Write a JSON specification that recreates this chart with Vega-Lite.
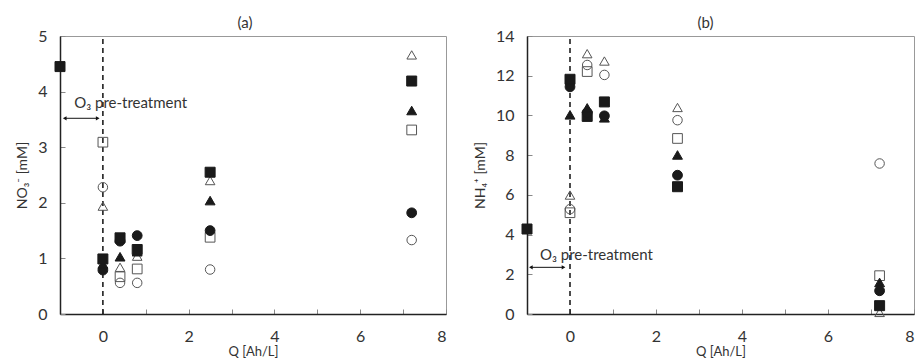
{
  "$schema": "https://vega.github.io/schema/vega-lite/v6.json",
  "padding": {"left": 15, "top": 15, "right": 0, "bottom": 0},
  "background": "white",
  "config": {
    "font": "Lato",
    "view": {"stroke": "#999", "strokeWidth": 1},
    "axis": {
      "grid": false, "domainColor": "#222", "domainWidth": 1.5,
      "labelFont": "Lato", "labelFontSize": 16, "labelColor": "#333", "labelOverlap": false,
      "titleFont": "Lato", "titleFontSize": 14, "titleFontWeight": "normal", "titleColor": "#333",
      "tickColor": "#888", "tickSize": -5, "tickWidth": 1
    },
    "axisY": {"labelOverlap": false},
    "title": {"font": "Lato", "fontSize": 15, "fontWeight": "normal", "color": "#333", "offset": -3}
  },
  "datasets": {
    "dash": [
      {"panel": "a", "q": 0, "v": 0, "v2": 5},
      {"panel": "b", "q": 0, "v": 0, "v2": 14}
    ],
    "arrow": [
      {"panel": "a", "q": -0.89, "q2": -0.12, "v": 3.52},
      {"panel": "b", "q": -0.91, "q2": -0.15, "v": 2.35}
    ],
    "heads": [
      {"panel": "a", "q": -0.89, "v": 3.52, "dir": "L"},
      {"panel": "a", "q": -0.12, "v": 3.52, "dir": "R"},
      {"panel": "b", "q": -0.91, "v": 2.35, "dir": "L"},
      {"panel": "b", "q": -0.15, "v": 2.35, "dir": "R"}
    ],
    "txt": [
      {"panel": "a", "q": -0.67, "v": 3.8, "label": "O₃ pre-treatment"},
      {"panel": "b", "q": -0.7, "v": 2.97, "label": "O₃ pre-treatment"}
    ],
    "pts": [
      {"panel": "a", "series": "D", "q": 0, "v": 3.09},
      {"panel": "a", "series": "F", "q": 0, "v": 2.28},
      {"panel": "a", "series": "E", "q": 0, "v": 1.94},
      {"panel": "a", "series": "C", "q": 0, "v": 0.79},
      {"panel": "a", "series": "B", "q": 0, "v": 0.9},
      {"panel": "a", "series": "A", "q": 0, "v": 0.99},
      {"panel": "a", "series": "A", "q": -1, "v": 4.45},
      {"panel": "a", "series": "F", "q": 0.4, "v": 0.56},
      {"panel": "a", "series": "D", "q": 0.4, "v": 0.67},
      {"panel": "a", "series": "E", "q": 0.4, "v": 0.84},
      {"panel": "a", "series": "B", "q": 0.4, "v": 1.03},
      {"panel": "a", "series": "C", "q": 0.4, "v": 1.31},
      {"panel": "a", "series": "A", "q": 0.4, "v": 1.37},
      {"panel": "a", "series": "F", "q": 0.8, "v": 0.56},
      {"panel": "a", "series": "D", "q": 0.8, "v": 0.81},
      {"panel": "a", "series": "E", "q": 0.8, "v": 1.04},
      {"panel": "a", "series": "B", "q": 0.8, "v": 1.12},
      {"panel": "a", "series": "C", "q": 0.8, "v": 1.41},
      {"panel": "a", "series": "A", "q": 0.8, "v": 1.16},
      {"panel": "a", "series": "F", "q": 2.5, "v": 0.8},
      {"panel": "a", "series": "D", "q": 2.5, "v": 1.38},
      {"panel": "a", "series": "E", "q": 2.5, "v": 2.4},
      {"panel": "a", "series": "C", "q": 2.5, "v": 1.5},
      {"panel": "a", "series": "B", "q": 2.5, "v": 2.04},
      {"panel": "a", "series": "A", "q": 2.5, "v": 2.55},
      {"panel": "a", "series": "F", "q": 7.2, "v": 1.33},
      {"panel": "a", "series": "D", "q": 7.2, "v": 3.31},
      {"panel": "a", "series": "E", "q": 7.2, "v": 4.66},
      {"panel": "a", "series": "C", "q": 7.2, "v": 1.82},
      {"panel": "a", "series": "B", "q": 7.2, "v": 3.66},
      {"panel": "a", "series": "A", "q": 7.2, "v": 4.19},
      {"panel": "b", "series": "A", "q": -1, "v": 4.28},
      {"panel": "b", "series": "E", "q": 0, "v": 5.99},
      {"panel": "b", "series": "F", "q": 0, "v": 5.28},
      {"panel": "b", "series": "D", "q": 0, "v": 5.1},
      {"panel": "b", "series": "B", "q": 0, "v": 10.03},
      {"panel": "b", "series": "C", "q": 0, "v": 11.44},
      {"panel": "b", "series": "A", "q": 0, "v": 11.82},
      {"panel": "b", "series": "E", "q": 0.4, "v": 13.11},
      {"panel": "b", "series": "F", "q": 0.4, "v": 12.54},
      {"panel": "b", "series": "D", "q": 0.4, "v": 12.21},
      {"panel": "b", "series": "A", "q": 0.4, "v": 9.95},
      {"panel": "b", "series": "C", "q": 0.4, "v": 10.15},
      {"panel": "b", "series": "B", "q": 0.4, "v": 10.38},
      {"panel": "b", "series": "E", "q": 0.8, "v": 12.74},
      {"panel": "b", "series": "F", "q": 0.8, "v": 12.04},
      {"panel": "b", "series": "B", "q": 0.8, "v": 9.88},
      {"panel": "b", "series": "C", "q": 0.8, "v": 9.98},
      {"panel": "b", "series": "A", "q": 0.8, "v": 10.68},
      {"panel": "b", "series": "E", "q": 2.5, "v": 10.4},
      {"panel": "b", "series": "F", "q": 2.5, "v": 9.76},
      {"panel": "b", "series": "D", "q": 2.5, "v": 8.84},
      {"panel": "b", "series": "B", "q": 2.5, "v": 8.01},
      {"panel": "b", "series": "C", "q": 2.5, "v": 6.99},
      {"panel": "b", "series": "A", "q": 2.5, "v": 6.41},
      {"panel": "b", "series": "F", "q": 7.2, "v": 7.58},
      {"panel": "b", "series": "D", "q": 7.2, "v": 1.93},
      {"panel": "b", "series": "E", "q": 7.2, "v": 0.08},
      {"panel": "b", "series": "B", "q": 7.2, "v": 1.59},
      {"panel": "b", "series": "C", "q": 7.2, "v": 1.17},
      {"panel": "b", "series": "A", "q": 7.2, "v": 0.42}
    ]
  },
  "spacing": 25,
  "hconcat": [
    {
      "width": 386, "height": 278,
      "title": {"text": "(a)", "dx": -8},
      "encoding": {
        "x": {"field": "q", "type": "quantitative", "scale": {"domain": [-1, 8], "nice": false},
              "axis": {"title": "Q [Ah/L]", "values": [0, 1, 2, 3, 4, 5, 6, 7, 8], "labelExpr": "datum.value % 2 == 0 ? datum.label : ''", "labelPadding": 19, "titleY": 37, "titleBaseline": "middle", "titleFontSize": 13, "labelOverlap": false}},
        "y": {"field": "v", "type": "quantitative", "scale": {"domain": [0, 5], "nice": false},
              "axis": {"title": "NO₃⁻ [mM]", "values": [0, 1, 2, 3, 4, 5], "labelPadding": 18, "titlePadding": 8, "labelOverlap": false}}
      },
      "layer": [
        {
          "data": {"name": "dash"},
          "transform": [{"filter": "datum.panel == 'a'"}],
          "mark": {"type": "rule", "color": "#111", "strokeWidth": 1.5, "strokeDash": [5, 4]},
          "encoding": {"y2": {"field": "v2"}}
        },
        {
          "data": {"name": "arrow"},
          "transform": [{"filter": "datum.panel == 'a'"}],
          "mark": {"type": "rule", "color": "#111", "strokeWidth": 1},
          "encoding": {"x2": {"field": "q2"}}
        },
        {
          "data": {"name": "heads"},
          "transform": [{"filter": "datum.panel == 'a' && datum.dir == 'L'"}],
          "mark": {"type": "point", "filled": true, "color": "#111", "size": 18, "shape": "triangle-left", "opacity": 1}
        },
        {
          "data": {"name": "heads"},
          "transform": [{"filter": "datum.panel == 'a' && datum.dir == 'R'"}],
          "mark": {"type": "point", "filled": true, "color": "#111", "size": 18, "shape": "triangle-right", "opacity": 1}
        },
        {
          "data": {"name": "txt"},
          "transform": [{"filter": "datum.panel == 'a'"}],
          "mark": {"type": "text", "align": "left", "baseline": "middle", "fontSize": 15, "color": "#333", "font": "Lato"},
          "encoding": {"text": {"field": "label"}}
        },
        {
          "data": {"name": "pts"},
          "transform": [{"filter": "datum.panel == 'a'"}],
          "mark": {"type": "point", "strokeWidth": 1, "opacity": 1},
          "encoding": {
            "shape": {"field": "series", "type": "nominal", "scale": {"domain": ["A", "B", "C", "D", "E", "F"], "range": ["square", "triangle-up", "circle", "square", "triangle-up", "circle"]}, "legend": null},
            "fill": {"field": "series", "type": "nominal", "scale": {"domain": ["A", "B", "C", "D", "E", "F"], "range": ["#1a1a1a", "#1a1a1a", "#1a1a1a", "transparent", "transparent", "transparent"]}, "legend": null},
            "stroke": {"field": "series", "type": "nominal", "scale": {"domain": ["A", "B", "C", "D", "E", "F"], "range": ["#1a1a1a", "#1a1a1a", "#1a1a1a", "#555", "#555", "#555"]}, "legend": null},
            "size": {"field": "series", "type": "nominal", "scale": {"domain": ["A", "B", "C", "D", "E", "F"], "range": [100, 90, 95, 90, 90, 95]}, "legend": null}
          }
        }
      ]
    },
    {
      "width": 387, "height": 278,
      "title": {"text": "(b)", "dx": -15},
      "encoding": {
        "x": {"field": "q", "type": "quantitative", "scale": {"domain": [-1, 8], "nice": false},
              "axis": {"title": "Q [Ah/L]", "values": [0, 1, 2, 3, 4, 5, 6, 7, 8], "labelExpr": "datum.value % 2 == 0 ? datum.label : ''", "labelPadding": 19, "titleY": 37, "titleBaseline": "middle", "titleFontSize": 13, "labelOverlap": false}},
        "y": {"field": "v", "type": "quantitative", "scale": {"domain": [0, 14], "nice": false},
              "axis": {"title": "NH₄⁺ [mM]", "values": [0, 2, 4, 6, 8, 10, 12, 14], "labelPadding": 18, "titlePadding": 8, "labelOverlap": false}}
      },
      "layer": [
        {
          "data": {"name": "dash"},
          "transform": [{"filter": "datum.panel == 'b'"}],
          "mark": {"type": "rule", "color": "#111", "strokeWidth": 1.5, "strokeDash": [5, 4]},
          "encoding": {"y2": {"field": "v2"}}
        },
        {
          "data": {"name": "arrow"},
          "transform": [{"filter": "datum.panel == 'b'"}],
          "mark": {"type": "rule", "color": "#111", "strokeWidth": 1},
          "encoding": {"x2": {"field": "q2"}}
        },
        {
          "data": {"name": "heads"},
          "transform": [{"filter": "datum.panel == 'b' && datum.dir == 'L'"}],
          "mark": {"type": "point", "filled": true, "color": "#111", "size": 18, "shape": "triangle-left", "opacity": 1}
        },
        {
          "data": {"name": "heads"},
          "transform": [{"filter": "datum.panel == 'b' && datum.dir == 'R'"}],
          "mark": {"type": "point", "filled": true, "color": "#111", "size": 18, "shape": "triangle-right", "opacity": 1}
        },
        {
          "data": {"name": "txt"},
          "transform": [{"filter": "datum.panel == 'b'"}],
          "mark": {"type": "text", "align": "left", "baseline": "middle", "fontSize": 15, "color": "#333", "font": "Lato"},
          "encoding": {"text": {"field": "label"}}
        },
        {
          "data": {"name": "pts"},
          "transform": [{"filter": "datum.panel == 'b'"}],
          "mark": {"type": "point", "strokeWidth": 1, "opacity": 1},
          "encoding": {
            "shape": {"field": "series", "type": "nominal", "scale": {"domain": ["A", "B", "C", "D", "E", "F"], "range": ["square", "triangle-up", "circle", "square", "triangle-up", "circle"]}, "legend": null},
            "fill": {"field": "series", "type": "nominal", "scale": {"domain": ["A", "B", "C", "D", "E", "F"], "range": ["#1a1a1a", "#1a1a1a", "#1a1a1a", "transparent", "transparent", "transparent"]}, "legend": null},
            "stroke": {"field": "series", "type": "nominal", "scale": {"domain": ["A", "B", "C", "D", "E", "F"], "range": ["#1a1a1a", "#1a1a1a", "#1a1a1a", "#555", "#555", "#555"]}, "legend": null},
            "size": {"field": "series", "type": "nominal", "scale": {"domain": ["A", "B", "C", "D", "E", "F"], "range": [100, 90, 95, 90, 90, 95]}, "legend": null}
          }
        }
      ]
    }
  ]
}
